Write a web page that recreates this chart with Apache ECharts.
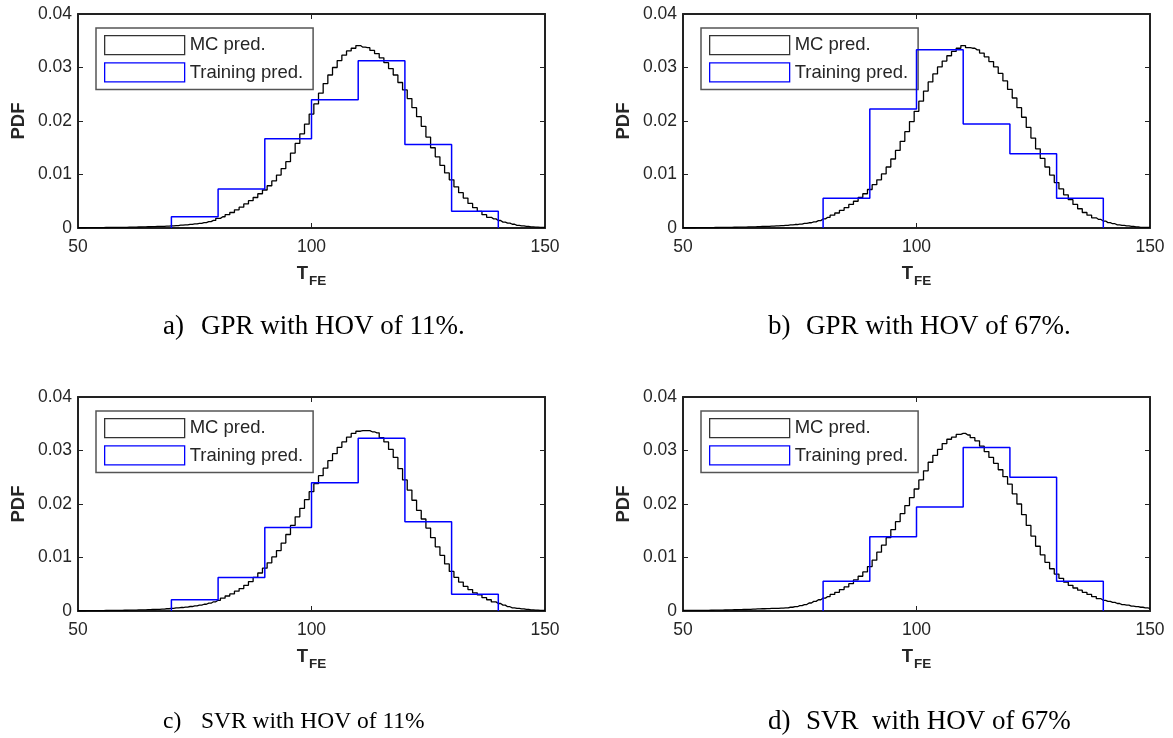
<!DOCTYPE html>
<html>
<head>
<meta charset="utf-8">
<script src="https://cdn.jsdelivr.net/npm/echarts@6/dist/echarts.min.js"></script>
<style>
html,body{margin:0;padding:0;background:#fff;}
#chart{width:1173px;height:738px;}
</style>
</head>
<body>
<div id="chart"></div>
<script>
// x positions of the MC (Monte Carlo) PDF staircase, T_FE
const tfeGrid = [50,51,52,53,54,55,56,57,58,59,60,61,62,63,64,65,66,67,68,69,70,71,72,73,74,75,76,77,78,79,80,81,82,83,84,85,86,87,88,89,90,91,92,93,94,95,96,97,98,99,100,101,102,103,104,105,106,107,108,109,110,111,112,113,114,115,116,117,118,119,120,121,122,123,124,125,126,127,128,129,130,131,132,133,134,135,136,137,138,139,140,141,142,143,144,145,146,147,148,149,150];

// MC pred. PDF values
const mcA = [0.00005,0.00005,0.00006,0.00006,0.00007,0.00008,0.00009,0.0001,0.00011,0.00012,0.00013,0.00015,0.00017,0.00019,0.00021,0.00023,0.00026,0.00029,0.00032,0.00036,0.0004,0.00046,0.00052,0.00059,0.00067,0.00076,0.00087,0.001,0.00118,0.00142,0.0018,0.0021,0.0025,0.0029,0.0034,0.0039,0.0045,0.0051,0.0057,0.0064,0.0071,0.0079,0.0088,0.0099,0.0111,0.0124,0.0140,0.0158,0.0176,0.0194,0.0213,0.0232,0.0252,0.0270,0.0286,0.0300,0.0313,0.0323,0.0331,0.0336,0.0341,0.0338,0.0337,0.0332,0.0326,0.0318,0.0309,0.0298,0.0286,0.0272,0.0258,0.0242,0.0225,0.0208,0.0190,0.0170,0.0150,0.0133,0.0117,0.0103,0.0090,0.0077,0.0066,0.0056,0.0046,0.0038,0.0031,0.0025,0.0020,0.0017,0.0014,0.0011,0.0009,0.0007,0.0005,0.0004,0.0003,0.0002,0.00015,0.0001,0.0001];
const mcB = [0.00005,0.00005,0.00005,0.00006,0.00007,0.00007,0.00008,0.00009,0.0001,0.00011,0.00012,0.00014,0.00016,0.00018,0.0002,0.00022,0.00025,0.00028,0.00031,0.00035,0.00039,0.00044,0.0005,0.00057,0.00065,0.00074,0.00085,0.00098,0.00115,0.00138,0.0017,0.0020,0.0024,0.0028,0.0033,0.0038,0.0044,0.0050,0.0057,0.0064,0.0072,0.0081,0.0090,0.0101,0.0114,0.0129,0.0145,0.0162,0.0180,0.0199,0.0218,0.0237,0.0256,0.0273,0.0288,0.0301,0.0312,0.0322,0.0330,0.0336,0.0341,0.0337,0.0336,0.0333,0.0327,0.0320,0.0311,0.0301,0.0289,0.0275,0.0259,0.0243,0.0225,0.0207,0.0188,0.0168,0.0148,0.0130,0.0114,0.0099,0.0085,0.0073,0.0062,0.0053,0.0044,0.0036,0.0029,0.0024,0.0019,0.0016,0.0013,0.0010,0.0008,0.0006,0.0005,0.0004,0.0003,0.0002,0.0001,0.0001,0.0001];
const mcC = [0.00005,0.00005,0.00006,0.00006,0.00007,0.00008,0.00009,0.0001,0.00011,0.00012,0.00014,0.00016,0.00018,0.0002,0.00022,0.00025,0.00028,0.00032,0.00036,0.00042,0.0005,0.00057,0.00065,0.00074,0.00084,0.00096,0.0011,0.00126,0.00146,0.00172,0.0020,0.0024,0.0028,0.0032,0.0037,0.0042,0.0048,0.0055,0.0063,0.0071,0.0080,0.0090,0.0101,0.0113,0.0127,0.0143,0.0160,0.0176,0.0192,0.0208,0.0223,0.0238,0.0253,0.0267,0.0281,0.0294,0.0306,0.0316,0.0325,0.0332,0.0336,0.0337,0.0337,0.0335,0.0333,0.0324,0.0316,0.0302,0.0287,0.0266,0.0245,0.0226,0.0207,0.0188,0.0172,0.0155,0.0137,0.0120,0.0104,0.0088,0.0074,0.0063,0.0054,0.0046,0.0040,0.0034,0.0030,0.0025,0.0021,0.0017,0.0014,0.0011,0.0008,0.0006,0.0005,0.0004,0.0003,0.0002,0.00015,0.0001,0.0001];
const mcD = [0.0001,0.0001,0.0001,0.00011,0.00012,0.00013,0.00014,0.00015,0.00017,0.00019,0.00021,0.00023,0.00025,0.00028,0.00031,0.00034,0.00038,0.00042,0.00045,0.00048,0.0005,0.00055,0.0006,0.0007,0.0008,0.0010,0.0012,0.0015,0.0018,0.0021,0.0024,0.0027,0.0031,0.0035,0.0040,0.0045,0.0051,0.0058,0.0065,0.0073,0.0083,0.0095,0.0110,0.0123,0.0137,0.0152,0.0167,0.0182,0.0197,0.0212,0.0228,0.0245,0.0262,0.0278,0.0291,0.0302,0.0313,0.0321,0.0325,0.0330,0.0332,0.0329,0.0324,0.0318,0.0308,0.0298,0.0287,0.0276,0.0264,0.0251,0.0237,0.0219,0.0200,0.0180,0.0160,0.0140,0.0121,0.0105,0.0091,0.0079,0.0069,0.0061,0.0054,0.0048,0.0043,0.0039,0.0035,0.0031,0.0027,0.0023,0.0020,0.0018,0.0016,0.0014,0.0012,0.0011,0.0009,0.0008,0.0007,0.0006,0.0005];

// Training pred. histogram (bin edges, bin heights)
const binEdges11 = [70,80,90,100,110,120,130,140];
const binEdges67 = [80,90,100,110,120,130,140];
const trainA = [0.00208,0.00729,0.01667,0.02396,0.03125,0.01563,0.00313];
const trainB = [0.00556,0.02222,0.03333,0.01944,0.01389,0.00556];
const trainC = [0.00208,0.00625,0.01563,0.02396,0.03229,0.01667,0.00313];
const trainD = [0.00556,0.01389,0.01944,0.03056,0.02500,0.00556];

// Tick values and text
const xTicks = [50,100,150];
const yTicks = [0,0.01,0.02,0.03,0.04];
const seriesNames = ['MC pred.','Training pred.'];
const captionTags = ['a)','b)','c)','d)'];
const captionTexts = ['GPR with HOV of 11%.','GPR with HOV of 67%.','SVR with HOV of 11%','SVR  with HOV of 67%'];

const panels = [
  {mc: mcA, edges: binEdges11, train: trainA},
  {mc: mcB, edges: binEdges67, train: trainB},
  {mc: mcC, edges: binEdges11, train: trainC},
  {mc: mcD, edges: binEdges67, train: trainD}
];

const gridPos = [
  {left: 78, top: 14},
  {left: 683, top: 14},
  {left: 78, top: 397},
  {left: 683, top: 397}
];
const GW = 467, GH = 214;
const capTop = [313, 313, 710, 708];
const capSize = [27, 27, 23.5, 27];

const sans = 'Liberation Sans, Arial, sans-serif';
const serif = 'Liberation Serif, Times New Roman, serif';
const axisColor = '#222';
const textColor = '#262626';

function histOutline(edges, h) {
  const pts = [[edges[0], 0]];
  for (let i = 0; i < h.length; i++) {
    pts.push([edges[i], h[i]]);
    pts.push([edges[i + 1], h[i]]);
  }
  pts.push([edges[edges.length - 1], 0]);
  return pts;
}

const grid = [], xAxis = [], yAxis = [], series = [], legend = [], title = [];

panels.forEach((p, i) => {
  const g = gridPos[i];
  grid.push({left: g.left, top: g.top, width: GW, height: GH, containLabel: false});
  const baseX = {
    gridIndex: i, type: 'value', min: xTicks[0], max: xTicks[xTicks.length - 1], interval: xTicks[1] - xTicks[0],
    splitLine: {show: false},
    axisLine: {show: true, onZero: false, lineStyle: {color: axisColor, width: 2}},
    axisTick: {show: true, inside: true, length: 5, lineStyle: {color: axisColor, width: 1}}
  };
  xAxis.push(Object.assign({}, baseX, {
    position: 'bottom',
    axisLabel: {show: true, margin: 10, color: textColor, fontSize: 17.5, fontFamily: sans},
    name: '{t|T}{s|FE}', nameLocation: 'middle', nameGap: 36,
    nameTextStyle: {
      rich: {
        t: {fontSize: 18.5, fontWeight: 'bold', fontFamily: sans, color: textColor, verticalAlign: 'top', lineHeight: 24},
        s: {fontSize: 13.5, fontWeight: 'bold', fontFamily: sans, color: textColor, verticalAlign: 'bottom', lineHeight: 24, padding: [17, 0, 0, 1]}
      }
    }
  }));
  xAxis.push(Object.assign({}, baseX, {position: 'top', axisLabel: {show: false}}));
  const baseY = {
    gridIndex: i, type: 'value', min: yTicks[0], max: yTicks[yTicks.length - 1], interval: yTicks[1] - yTicks[0],
    splitLine: {show: false},
    axisLine: {show: true, onZero: false, lineStyle: {color: axisColor, width: 2}},
    axisTick: {show: true, inside: true, length: 5, lineStyle: {color: axisColor, width: 1}}
  };
  yAxis.push(Object.assign({}, baseY, {
    position: 'left',
    axisLabel: {show: true, margin: 6, color: textColor, fontSize: 17.5, fontFamily: sans,
      formatter: v => (v === 0 ? '0' : v.toFixed(2))},
    name: 'PDF', nameLocation: 'middle', nameGap: 50, nameRotate: 90,
    nameTextStyle: {fontSize: 18.5, fontWeight: 'bold', fontFamily: sans, color: textColor}
  }));
  yAxis.push(Object.assign({}, baseY, {position: 'right', axisLabel: {show: false}}));

  series.push({
    name: seriesNames[0], type: 'line', xAxisIndex: 2 * i, yAxisIndex: 2 * i,
    data: tfeGrid.map((t, k) => [t, p.mc[k]]),
    step: 'middle', showSymbol: false, symbol: 'none', silent: true,
    lineStyle: {color: '#000', width: 1.3}, itemStyle: {color: '#000'}, z: 3
  });
  series.push({
    name: seriesNames[1], type: 'line', xAxisIndex: 2 * i, yAxisIndex: 2 * i,
    data: histOutline(p.edges, p.train),
    showSymbol: false, symbol: 'none', silent: true,
    lineStyle: {color: '#0000ff', width: 1.5}, itemStyle: {color: '#0000ff'}, z: 4
  });

  legend.push({
    orient: 'vertical', left: g.left + 18, top: g.top + 14,
    itemWidth: 80, itemHeight: 19, itemGap: 7,
    padding: [7, 10, 7, 8],
    borderColor: '#555', borderWidth: 1.5, backgroundColor: '#fff',
    selectedMode: false,
    textStyle: {fontSize: 18.5, fontFamily: sans, color: textColor},
    data: [
      {name: seriesNames[0], icon: 'rect', itemStyle: {color: '#fff', borderColor: '#333', borderWidth: 1.3}},
      {name: seriesNames[1], icon: 'rect', itemStyle: {color: '#fff', borderColor: '#0000ff', borderWidth: 1.3}}
    ]
  });

  title.push({
    text: captionTags[i], left: g.left + 85, top: capTop[i], padding: 0,
    textStyle: {fontSize: capSize[i], fontWeight: 'normal', fontFamily: serif, color: '#000'}
  });
  title.push({
    text: captionTexts[i], left: g.left + 123, top: capTop[i], padding: 0,
    textStyle: {fontSize: capSize[i], fontWeight: 'normal', fontFamily: serif, color: '#000'}
  });
});

const chart = echarts.init(document.getElementById('chart'), null, {renderer: 'canvas'});
chart.setOption({
  animation: false,
  backgroundColor: '#fff',
  grid, xAxis, yAxis, series, legend, title
});
</script>
</body>
</html>
